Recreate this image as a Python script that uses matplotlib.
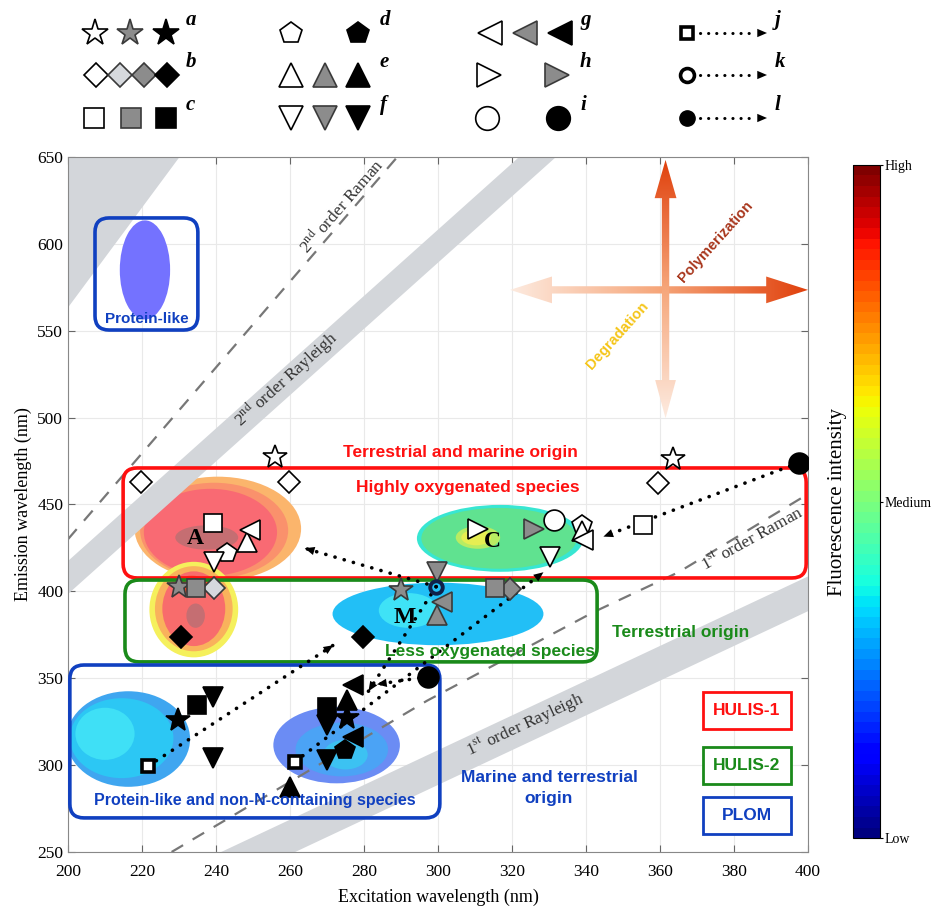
import numpy as np
import matplotlib
matplotlib.use('Agg')
import matplotlib.pyplot as plt
from matplotlib.patches import Ellipse, FancyBboxPatch, FancyArrow, Rectangle
from matplotlib.colors import LinearSegmentedColormap, Normalize
import matplotlib.colorbar as mcolorbar

plt.rcParams['font.family'] = ['Liberation Serif', 'DejaVu Serif']
plt.rcParams['mathtext.fontset'] = 'stix'

# ==========================================
# data (excitation nm, emission nm)
# ==========================================
a_open = ([255.9, 363.4], [477.5, 476.0])
a_grey = ([230.1, 290.0], [402.7, 400.8])
a_black = ([229.8, 275.3], [326.0, 327.0])
b_open = ([219.6, 259.8, 359.5], [463.1, 463.1, 462.5])
b_light = ([239.5], [401.7])
b_grey = ([319.5], [401.2])
b_black = ([230.5, 279.7], [374.0, 374.0])
c_open = ([239.1, 355.5], [439.2, 438.2])
c_grey = ([234.6, 315.4], [401.7, 401.7])
c_black = ([234.8, 269.9], [334.6, 333.6])
d_open = ([243.1, 338.8], [422.3, 438.2])
d_black = ([274.9], [308.7])
e_open = ([248.3, 338.8], [428.6, 434.5])
e_grey = ([299.6], [386.4])
e_black = ([275.3, 260.0], [337.5, 287.6])
f_open = ([239.5, 330.3], [417.0, 420.0])
f_grey = ([299.6], [411.3])
f_black = ([239.3, 239.3, 269.9, 269.9], [339.4, 303.9, 323.1, 302.9])
g_open = ([249.2, 339.3], [435.3, 429.6])
g_grey = ([301.0], [394.0])
g_black = ([277.1, 277.1], [346.1, 316.4])
h_open = ([310.9], [435.7])
h_grey = ([325.9], [435.7])
i_open = ([331.4], [441.0])
i_black = ([397.5, 297.4], [474.0, 350.9])
j_pts = ([221.7, 261.4], [299.5, 302.0])
k_pts = ([299.5], [402.7])

# dotted transformation arrows: start -> end
arrow_start = [(221.7, 299.5), (261.4, 302.0), (397.5, 474.0), (299.5, 402.7), (299.5, 402.7), (297.4, 350.9)]
arrow_end = [(271.7, 369.0), (328.5, 411.0), (344.7, 431.5), (264.0, 424.8), (281.2, 342.5), (283.5, 346.5)]

# scattering lines / bands
ray1_x = [225, 400]
ray1_lo = [214, 389]
ray1_hi = [234, 409]
ray2_x = [200, 340]
ray2_lo = [399, 666]
ray2_hi = [418, 685]
corner_x = [200, 240]
corner_lo = [564, 679]
raman1_x = [228, 297, 342, 365, 400]
raman1_y = [250, 337, 388, 411, 456]
raman2_x = [200, 289]
raman2_y = [430, 650]

# fluorescence regions (ellipse layers)
blob_cx = [240.5, 239.5, 238.5, 237.5,
           234.0, 234.0, 234.0, 233.5, 234.5,
           316.8, 316.5, 310.8, 310.3,
           300.0, 292.0,
           216.3, 214.5, 210.0,
           272.6, 274.0, 275.0,
           220.8]
blob_cy = [436.0, 435.0, 434.0, 431.0,
           389.5, 390.0, 390.0, 404.0, 386.0,
           430.5, 430.5, 431.0, 431.0,
           387.0, 389.0,
           315.0, 315.5, 318.0,
           311.5, 309.0, 306.0,
           585.0]
blob_w = [45, 40, 36, 17,
          24, 21, 17, 9, 5,
          45, 42, 12, 8,
          57, 16,
          33.4, 28, 16,
          34.2, 25, 12,
          13.6]
blob_h = [60, 55, 50, 14,
          55, 49, 43, 10, 14,
          38.5, 35, 13, 9,
          36, 20,
          55, 46, 30,
          44, 31, 17,
          57]
blob_col = ['#fbb56c', '#fa916c', '#f96a73', '#c56e72',
            '#f5f05c', '#f9b25c', '#f86c6c', '#fb4a25', '#c56e72',
            '#38e6d2', '#60e290', '#b9ec62', '#e6ee52',
            '#22bff6', '#3fe2f6',
            '#3fa6f0', '#2cc7f4', '#3fe0f6',
            '#6b8cf4', '#4ba3f5', '#3cc2f2',
            '#7472ff']

# region boxes (x0, y0, x1, y1)
box_hulis1 = (214.9, 407.7, 399.5, 471.0)
box_hulis2 = (215.4, 359.4, 343.0, 406.5)
box_plom = (200.5, 269.6, 300.5, 357.6)
box_protein = (207.3, 550.4, 235.1, 614.9)

RED, GREEN, BLUE = '#ff1010', '#1a8a1a', '#1040c0'
styles = {'open': dict(mfc='white', mec='black'),
          'grey': dict(mfc='#8c8c8c', mec='#3a3a3a'),
          'light': dict(mfc='#d6d9dd', mec='#3a3a3a'),
          'black': dict(mfc='black', mec='black')}

fig = plt.figure(figsize=(9.34, 9.11), dpi=100)
ax = fig.add_axes([0.0728, 0.0648, 0.7923, 0.7629])

# blobs
for cx, cy, w, h, c in zip(blob_cx, blob_cy, blob_w, blob_h, blob_col):
    ax.add_patch(Ellipse((cx, cy), w, h, facecolor=c, edgecolor='none', zorder=1.5))

# scattering bands and lines
band_c = '#d3d6da'
ax.fill_between(ray1_x, ray1_lo, ray1_hi, color=band_c, lw=0, zorder=2)
ax.fill_between(ray2_x, ray2_lo, ray2_hi, color=band_c, lw=0, zorder=2)
ax.fill_between(corner_x, corner_lo, [760, 760], color=band_c, lw=0, zorder=2)
ax.plot(raman1_x, raman1_y, color='#777777', ls=(0, (6, 5)), lw=1.6, zorder=2.1)
ax.plot(raman2_x, raman2_y, color='#777777', ls=(0, (6, 5)), lw=1.6, zorder=2.1)

lab = dict(fontsize=12.5, color='#333333', rotation_mode='anchor', ha='center', va='center', zorder=2.2)
ax.text(274, 622, r'2$^{\rm nd}$ order Raman', rotation=49, **lab)
ax.text(259, 522, r'2$^{\rm nd}$ order Rayleigh', rotation=42, **lab)
ax.text(385, 430, r'1$^{\rm st}$ order Raman', rotation=29, **lab)
ax.text(323.5, 323, r'1$^{\rm st}$ order Rayleigh', rotation=25, **lab)

# rounded boxes
asp = 3.7 / 1.7375
for (x0, y0, x1, y1), c in [(box_hulis1, RED), (box_hulis2, GREEN), (box_plom, BLUE), (box_protein, BLUE)]:
    ax.add_patch(FancyBboxPatch((x0, y0), x1 - x0, y1 - y0, boxstyle='round,pad=0,rounding_size=3.8',
                                mutation_aspect=asp, fc='none', ec=c, lw=2.6, zorder=3))


# gradient arrows (polymerization / degradation)
def grad_arrow(x0, y0, x1, y1, w, hw, hl, ext, horiz, cm):
    arr = FancyArrow(x0, y0, x1 - x0, y1 - y0, width=w, head_width=hw, head_length=hl,
                     length_includes_head=True, fc='none', ec='none')
    ax.add_patch(arr)
    g = np.linspace(0, 1, 256)
    img = g[np.newaxis, :] if horiz else g[:, np.newaxis]
    im = ax.imshow(img, extent=ext, origin='lower', cmap=cm, aspect='auto', zorder=3.5, interpolation='bilinear')
    im.set_clip_path(arr)


cm_arrow = LinearSegmentedColormap.from_list('arr', ['#fdebe0', '#f6a67a', '#e0400c'])
hx0, hx1, hy = 319.5, 400.0, 573.5
vx, vy0, vy1 = 361.5, 499.6, 648.3
ext_h = [hx0, hx1, hy - 10, hy + 10]
ext_v = [vx - 5, vx + 5, vy0, vy1]
grad_arrow(vx, hy, hx0, hy, 4.2, 15.4, 11.3, ext_h, True, cm_arrow)
grad_arrow(vx, hy, hx1, hy, 4.2, 15.4, 11.3, ext_h, True, cm_arrow)
grad_arrow(vx, hy, vx, vy0, 2.0, 5.6, 22, ext_v, False, cm_arrow)
grad_arrow(vx, hy, vx, vy1, 2.0, 5.9, 22, ext_v, False, cm_arrow)
ax.text(375, 601, 'Polymerization', rotation=48, color='#a8361c', fontsize=10.5, fontweight='bold',
        family='Liberation Sans', ha='center', va='center', zorder=4)
ax.text(348.5, 547, 'Degradation', rotation=48, color='#f5c518', fontsize=10.5, fontweight='bold',
        family='Liberation Sans', ha='center', va='center', zorder=4)

# dotted arrows
for (x0, y0), (x1, y1) in zip(arrow_start, arrow_end):
    ax.plot([x0, x1], [y0, y1], color='black', lw=2.6, ls=(0, (0.05, 2.6)),
            dash_capstyle='round', zorder=4)
    ax.annotate('', xy=(x1, y1), xytext=(x1 - (x1 - x0) * 0.05, y1 - (y1 - y0) * 0.05),
                arrowprops=dict(arrowstyle='-|>,head_length=0.7,head_width=0.3', color='black', lw=0,
                                shrinkA=0, shrinkB=0), zorder=4)

# markers
series = [(a_open, '*', 'open', 18), (a_grey, '*', 'grey', 18), (a_black, '*', 'black', 18),
          (b_open, 'D', 'open', 11), (b_light, 'D', 'light', 11), (b_grey, 'D', 'grey', 11),
          (b_black, 'D', 'black', 11),
          (c_open, 's', 'open', 13), (c_grey, 's', 'grey', 13), (c_black, 's', 'black', 13),
          (d_open, 'p', 'open', 15), (d_black, 'p', 'black', 15),
          (e_open, '^', 'open', 14), (e_grey, '^', 'grey', 14), (e_black, '^', 'black', 14),
          (f_open, 'v', 'open', 14), (f_grey, 'v', 'grey', 14), (f_black, 'v', 'black', 14),
          (g_open, '<', 'open', 14), (g_grey, '<', 'grey', 14), (g_black, '<', 'black', 14),
          (h_open, '>', 'open', 14), (h_grey, '>', 'grey', 14),
          (i_open, 'o', 'open', 15), (i_black, 'o', 'black', 15)]
for (xs, ys), m, st, ms in series:
    ax.plot(xs, ys, ls='none', marker=m, ms=ms, mew=1.2, zorder=5, **styles[st])
ax.plot(*j_pts, ls='none', marker='s', ms=8, mfc='white', mec='black', mew=2.6, zorder=5)
ax.plot(*k_pts, ls='none', marker='o', ms=9, mfc='none', mec='#10204a', mew=2.8, zorder=5)

# region labels
sans = dict(family='Liberation Sans', fontweight='bold', ha='center', va='center', zorder=6)
ax.text(306, 480, 'Terrestrial and marine origin', color=RED, fontsize=12.5, **sans)
ax.text(308, 460, 'Highly oxygenated species', color=RED, fontsize=12.5, **sans)
ax.text(365.5, 376.5, 'Terrestrial origin', color=GREEN, fontsize=12.5, **sans)
ax.text(314, 365.5, 'Less oxygenated species', color=GREEN, fontsize=12.5, **sans)
ax.text(250.5, 279.5, 'Protein-like and non-N-containing species', color=BLUE, fontsize=11.5, **sans)
ax.text(330, 287, 'Marine and terrestrial\norigin', color=BLUE, fontsize=12.5, linespacing=1.5, **sans)
ax.text(221.4, 557, 'Protein-like', color=BLUE, fontsize=11, **sans)
peak = dict(fontsize=17, fontweight='bold', ha='center', va='center', zorder=6)
ax.text(234.3, 430.5, 'A', **peak)
ax.text(314.6, 428.5, 'C', **peak)
ax.text(291, 385, 'M', **peak)

# HULIS / PLOM key boxes (axes fraction)
for t, c, yy in [('HULIS-1', RED, 0.203), ('HULIS-2', GREEN, 0.124), ('PLOM', BLUE, 0.052)]:
    ax.add_patch(Rectangle((0.9176 - 0.0595, yy - 0.0265), 0.119, 0.053, transform=ax.transAxes,
                           fc='white', ec=c, lw=2, zorder=6))
    ax.text(0.9176, yy, t, transform=ax.transAxes, color=c, fontsize=12.5, family='Liberation Sans',
            fontweight='bold', ha='center', va='center', zorder=7)

ax.set_xlim(200, 400)
ax.set_ylim(250, 650)
ax.set_xticks(np.arange(200, 401, 20))
ax.set_yticks(np.arange(250, 651, 50))
ax.grid(True, color='#e9e9e9', lw=0.8)
ax.set_axisbelow(True)
ax.tick_params(direction='in', top=True, right=True, length=5, labelsize=12.5, color='#666666')
ax.tick_params(axis='x', pad=9)
for s in ax.spines.values():
    s.set_color('#888888')
ax.set_xlabel('Excitation wavelength (nm)', fontsize=13, labelpad=6)
ax.set_ylabel('Emission wavelength (nm)', fontsize=13)

# colorbar
cax = fig.add_axes([0.9133, 0.0801, 0.0289, 0.7388])
cb = mcolorbar.ColorbarBase(cax, cmap=plt.get_cmap('jet', 64), norm=Normalize(0, 1), ticks=[0, 0.5, 1])
cb.set_ticklabels(['Low', 'Medium', 'High'])
cb.outline.set_linewidth(0.8)
cax.tick_params(labelsize=10, length=2, pad=1)
cax.yaxis.set_label_position('left')
cax.set_ylabel('Fluorescence intensity', fontsize=15, labelpad=4)

# symbol legend panel (figure pixels)
lg = fig.add_axes([0, 1 - 140 / 911, 1, 140 / 911])
lg.set_xlim(0, 934)
lg.set_ylim(140, 0)
lg.axis('off')
LY = [33, 75, 118]
legend_rows = [('*', [95, 130, 166], ['open', 'grey', 'black'], 0, 20),
               ('D', [96, 120, 144, 167], ['open', 'light', 'grey', 'black'], 1, 12),
               ('s', [94, 131, 166], ['open', 'grey', 'black'], 2, 15),
               ('p', [291, 358], ['open', 'black'], 0, 16),
               ('^', [291, 325, 358], ['open', 'grey', 'black'], 1, 17),
               ('v', [291, 325, 358], ['open', 'grey', 'black'], 2, 17),
               ('<', [490, 525, 560], ['open', 'grey', 'black'], 0, 17),
               ('>', [489, 557], ['open', 'grey'], 1, 17),
               ('o', [487, 558], ['open', 'black'], 2, 17)]
for m, xs, sts, r, ms in legend_rows:
    for x, st in zip(xs, sts):
        lg.plot(x, LY[r], marker=m, ms=ms, mew=1.2, ls='none', **styles[st])
for r, (m, fc, ms) in enumerate([('s', 'white', 8), ('o', 'white', 10), ('o', 'black', 11)]):
    lg.plot(687, LY[r], marker=m, ms=ms, mfc=fc, mec='black', mew=2.6 if fc == 'white' else 1)
    lg.plot([700, 752], [LY[r], LY[r]], color='black', lw=2.2, ls=(0, (0.05, 2.6)), dash_capstyle='round')
    lg.annotate('', xy=(767, LY[r]), xytext=(755, LY[r]),
                arrowprops=dict(arrowstyle='-|>,head_length=0.7,head_width=0.3', color='black', lw=0,
                                shrinkA=0, shrinkB=0))
letters = ['a', 'b', 'c', 'd', 'e', 'f', 'g', 'h', 'i', 'j', 'k', 'l']
for n, t in enumerate(letters):
    lg.text([186, 380, 580, 775][n // 3], LY[n % 3] - 13, t, fontsize=15, fontstyle='italic',
            fontweight='bold', ha='left', va='center')

plt.savefig('out.png', dpi=100)
